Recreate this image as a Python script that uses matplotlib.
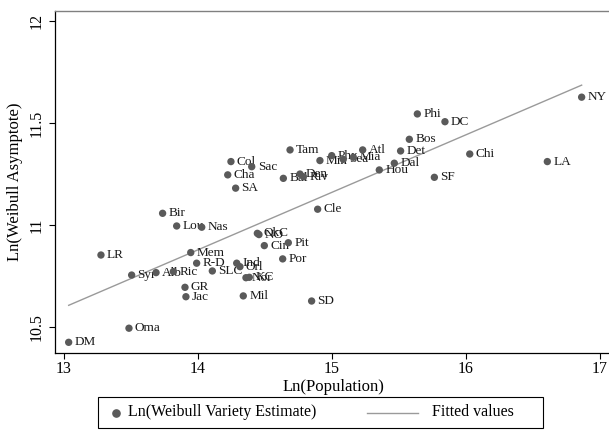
import numpy as np
import matplotlib
matplotlib.use("Agg")
import matplotlib.pyplot as plt
from matplotlib.lines import Line2D
from matplotlib.patches import Rectangle

plt.rcParams['font.family'] = ['Liberation Serif', 'DejaVu Serif']

# city labels and values
cities = ["NY", "LA", "Chi", "DC", "Phi", "Bos", "Det", "Atl", "Dal", "Hou",
          "SF", "Mia", "Sea", "Phx", "Min", "Tam", "Den", "Riv", "Bal", "Cle",
          "SD", "Pit", "Por", "Cin", "OkC", "NO", "Ind", "Orl", "Nor", "KC",
          "Mil", "SLC", "Sac", "Col", "Cha", "SA", "Nas", "Lou", "Bir", "Mem",
          "R-D", "Ric", "Alb", "Syr", "GR", "Jac", "LR", "Oma", "DM"]
ln_pop = [16.863, 16.607, 16.028, 15.843, 15.637, 15.577, 15.512, 15.229, 15.465, 15.353,
          15.764, 15.159, 15.084, 14.998, 14.910, 14.687, 14.761, 14.786, 14.637, 14.893,
          14.848, 14.674, 14.632, 14.495, 14.443, 14.455, 14.289, 14.313, 14.358, 14.383,
          14.338, 14.107, 14.401, 14.246, 14.222, 14.281, 14.028, 13.841, 13.736, 13.946,
          13.990, 13.816, 13.687, 13.505, 13.903, 13.910, 13.276, 13.485, 13.035]
ln_asym = [11.626, 11.311, 11.348, 11.506, 11.544, 11.420, 11.363, 11.368, 11.303, 11.270,
           11.234, 11.332, 11.322, 11.340, 11.316, 11.368, 11.250, 11.237, 11.229, 11.078,
           10.629, 10.914, 10.835, 10.900, 10.960, 10.954, 10.814, 10.797, 10.743, 10.745,
           10.654, 10.776, 11.286, 11.311, 11.246, 11.181, 10.990, 10.996, 11.058, 10.866,
           10.814, 10.773, 10.768, 10.756, 10.696, 10.650, 10.854, 10.496, 10.427]

x_ticks = [13, 14, 15, 16, 17]
y_ticks = [10.5, 11, 11.5, 12]
y_tick_labels = ["10.5", "11", "11.5", "12"]

dot_color = "#5a5a5a"
line_color = "#9a9a9a"
W, H = 609, 432

fig = plt.figure(figsize=(W / 100, H / 100), dpi=100)
ax = fig.add_axes([55 / W, 1 - 352.7 / H, (612 - 55) / W, 341.7 / H])

x = np.array(ln_pop)
y = np.array(ln_asym)

# fitted values
slope, intercept = np.polyfit(x, y, 1)
xs = np.array([x.min(), x.max()])
ax.plot(xs, intercept + slope * xs, color=line_color, lw=1.0, zorder=1)

ax.scatter(x, y, s=28, color=dot_color, edgecolors="none", zorder=3)
for name, xi, yi in zip(cities, x, y):
    ax.annotate(name, (xi, yi), xytext=(4.3, 0), textcoords="offset points",
                va="center", ha="left", fontsize=9.5, color="#1a1a1a", zorder=2)

ax.set_xlim(12.933, 13 + (612 - 64) / 134)
ax.set_ylim(10.5 - (352.7 - 327.4) / 204.4, 12 + (20.7 - 11.0) / 204.4)
ax.set_xticks(x_ticks)
ax.set_yticks(y_ticks)
ax.set_yticklabels(y_tick_labels, rotation=90, va="center")
ax.tick_params(direction="out", length=4.3, width=0.8, labelsize=11.5, color="black")
ax.tick_params(axis="x", pad=2)
ax.tick_params(axis="y", pad=3)

ax.spines["right"].set_visible(False)
ax.spines["top"].set_color("#808080")
ax.spines["top"].set_linewidth(1.0)
ax.spines["left"].set_linewidth(0.9)
ax.spines["bottom"].set_linewidth(0.9)

ax.set_xlabel("Ln(Population)", fontsize=12, labelpad=1)
ax.set_ylabel("Ln(Weibull Asymptote)", fontsize=12, labelpad=4)

# legend box drawn by hand: marker sits next to its text, line has a long key
fig.patches.append(Rectangle((98 / W, 1 - 428 / H), (543 - 98) / W, 31 / H,
                             transform=fig.transFigure, fill=False,
                             edgecolor="black", lw=0.8))
ly = 1 - 412.5 / H
fig.lines.append(Line2D([116 / W], [ly], transform=fig.transFigure, marker="o",
                        color=dot_color, markersize=5.2, ls="none"))
fig.text(128 / W, ly, "Ln(Weibull Variety Estimate)", fontsize=11.5, va="center")
fig.lines.append(Line2D([367 / W, 418 / W], [ly, ly], transform=fig.transFigure,
                        color=line_color, lw=1.0))
fig.text(432 / W, ly, "Fitted values", fontsize=11.5, va="center")

fig.savefig("out.png", dpi=100)
